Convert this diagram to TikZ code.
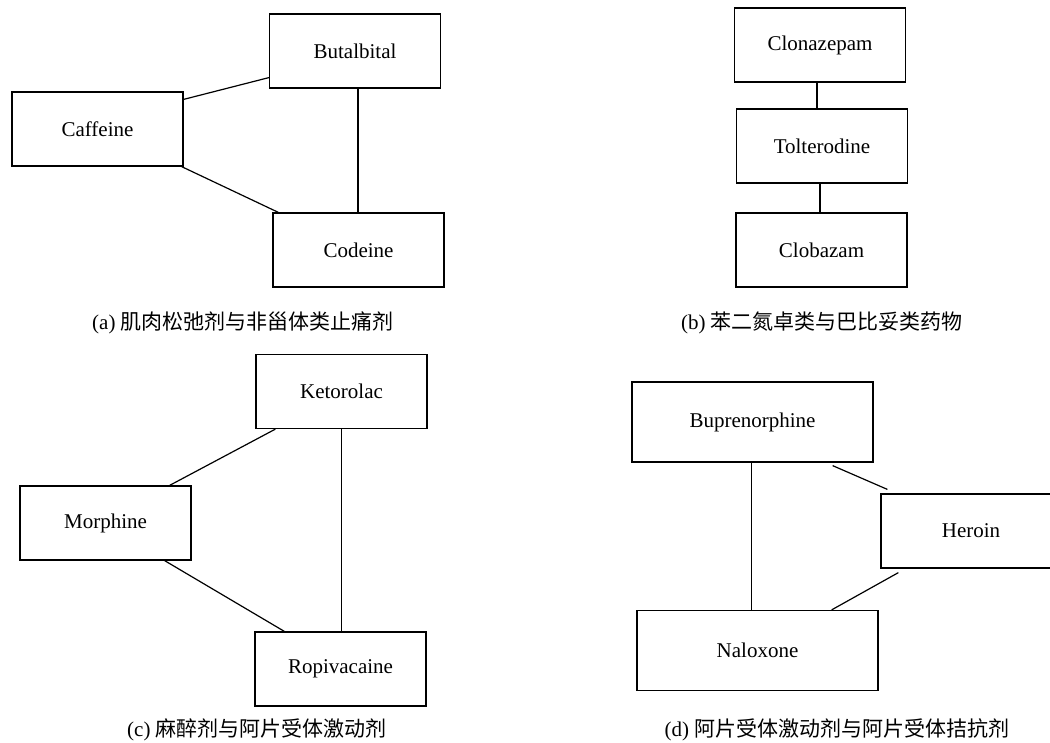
\documentclass[tikz,border=0pt]{standalone}
\usepackage{fontspec}
\setmainfont{Liberation Serif}
\newfontfamily\cjk{Noto Sans CJK SC}
\tikzset{
  drug/.style={draw, line width=1.2pt, minimum width=171pt, minimum height=74pt,
    inner sep=0pt, font=\fontsize{21}{25}\selectfont},
  bigdrug/.style={drug, minimum width=241pt, minimum height=80pt},
  subcap/.style={font=\fontsize{21}{25}\selectfont},
  link/.style={draw, line width=1.2pt}
}

\begin{document}
\begin{tikzpicture}[x=1pt, y=-1pt] % one unit = one pixel
\useasboundingbox (0,0) rectangle (1050,742);

% (a)
\node[drug] (but) at (355,51) {Butalbital};
\node[drug] (caf) at (97.5,129) {Caffeine};
\node[drug] (cod) at (358.5,250) {Codeine};
\path[link] ([yshift=-8pt]caf.north east) -- ([yshift=11pt]but.south west);
\path[link] ([xshift=-2pt]caf.south east) -- ([xshift=6pt]cod.north west);
\path[link] ([xshift=3pt]but.south) -- ([xshift=3pt]but.south |- cod.north);
\node[subcap] (capa) at (243,323) {(a) {\cjk 肌肉松弛剂与非甾体类止痛剂}};

% (b)
\node[drug] (clo) at (820,45) {Clonazepam};
\node[drug] (tol) at (822,146) {Tolterodine};
\node[drug] (clb) at (821.5,250) {Clobazam};
\path[link] ([xshift=-3pt]clo.south) -- ([xshift=-3pt]clo.south |- tol.north);
\path[link] ([xshift=-2pt]tol.south) -- ([xshift=-2pt]tol.south |- clb.north);
\node[subcap] (capb) at (822,323) {(b) {\cjk 苯二氮卓类与巴比妥类药物}};

% (c)
\node[drug] (ket) at (341.5,391.5) {Ketorolac};
\node[drug] (mor) at (105.5,523) {Morphine};
\node[drug] (rop) at (340.5,669) {Ropivacaine};
\path[link] ([xshift=20pt]ket.south west) -- ([xshift=-22pt]mor.north east);
\path[link] ([xshift=-27pt]mor.south east) -- ([xshift=30pt]rop.north west);
\path[link] (ket.south) -- (ket.south |- rop.north);
\node[subcap] (capc) at (257,730) {(c) {\cjk 麻醉剂与阿片受体激动剂}};

% (d)
\node[bigdrug] (bup) at (752.5,422) {Buprenorphine};
\node[drug, minimum width=180pt] (her) at (971,531) {Heroin};
\node[bigdrug] (nal) at (757.5,650.5) {Naloxone};
\path[link] ([xshift=-1pt]bup.south) -- ([xshift=-1pt]bup.south |- nal.north);
\path[link] ([shift={(-41pt,-3pt)}]bup.south east) -- ([shift={(7pt,4pt)}]her.north west);
\path[link] ([shift={(18pt,-4pt)}]her.south west) -- ([xshift=-47pt]nal.north east);
\node[subcap] (capd) at (837,730) {(d) {\cjk 阿片受体激动剂与阿片受体拮抗剂}};
\end{tikzpicture}
\end{document}
